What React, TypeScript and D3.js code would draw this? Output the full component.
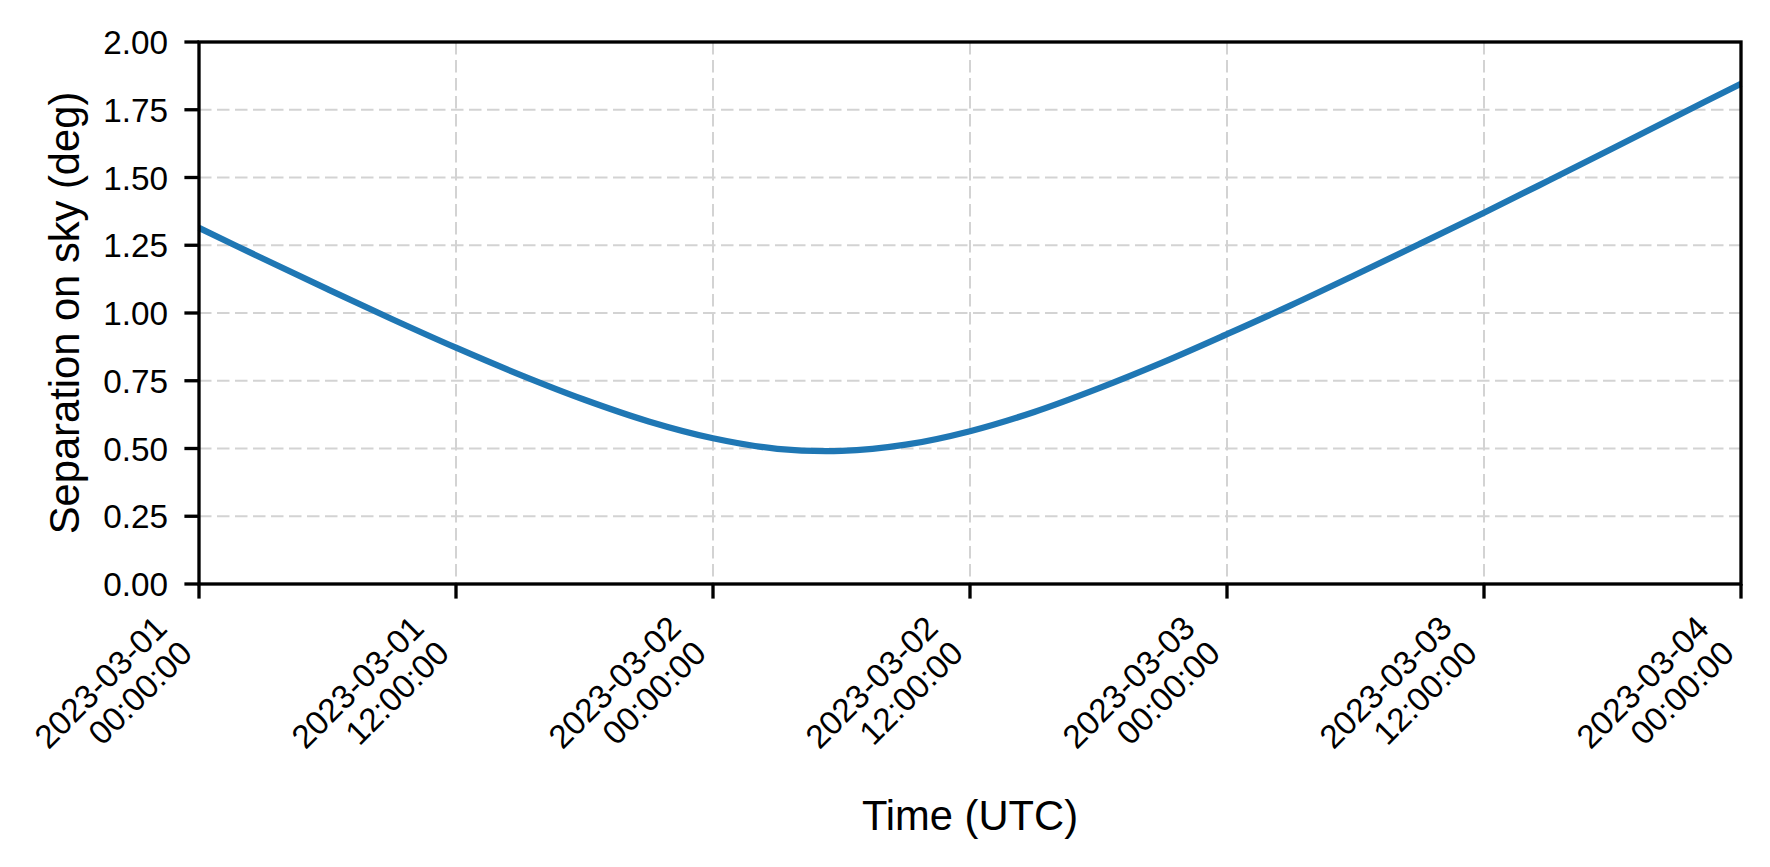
import React from "react";
import * as d3 from "d3";

// ---- data ----
const startTime = "2023-03-01T00:00:00Z";
const endTime = "2023-03-04T00:00:00Z";
const sampleHours = [0, 3, 6, 9, 12, 15, 18, 21, 24, 27, 30, 33, 36, 39, 42, 45, 48, 51, 54, 57, 60, 63, 66, 69, 72];
const separationDeg = [
  1.314, 1.2, 1.088, 0.978, 0.872, 0.772, 0.68, 0.6, 0.538, 0.499, 0.491, 0.514, 0.564,
  0.635, 0.722, 0.818, 0.922, 1.029, 1.141, 1.255, 1.37, 1.488, 1.607, 1.727, 1.846,
];
const xTickTimes = [
  "2023-03-01T00:00:00Z",
  "2023-03-01T12:00:00Z",
  "2023-03-02T00:00:00Z",
  "2023-03-02T12:00:00Z",
  "2023-03-03T00:00:00Z",
  "2023-03-03T12:00:00Z",
  "2023-03-04T00:00:00Z",
];
const yTicks = [0, 0.25, 0.5, 0.75, 1.0, 1.25, 1.5, 1.75, 2.0];
const yLabel = "Separation on sky (deg)";
const xLabel = "Time (UTC)";

const W = 1770;
const H = 867;
const M = { left: 199, right: 1741, top: 42, bottom: 584 };
const FONT = "'Liberation Sans', Arial, Helvetica, sans-serif";

export default function App() {
  const t0 = new Date(startTime);
  const x = d3.scaleUtc().domain([t0, new Date(endTime)]).range([M.left, M.right]);
  const y = d3.scaleLinear().domain([0, 2]).range([M.bottom, M.top]);

  const pts = sampleHours.map((h, i) => ({
    t: d3.utcHour.offset(t0, h),
    v: separationDeg[i],
  }));
  const line = d3
    .line<{ t: Date; v: number }>()
    .x((d) => x(d.t))
    .y((d) => y(d.v))
    .curve(d3.curveCatmullRom.alpha(0.5));

  const fmtDate = d3.utcFormat("%Y-%m-%d");
  const fmtTime = d3.utcFormat("%H:%M:%S");
  const fmtY = d3.format(".2f");
  const xTicks = xTickTimes.map((s) => new Date(s));

  const tickLen = 14.6;
  const spineW = 3.33;
  const gridColor = "#d3d3d3";
  const tickFs = 33.3;
  const labelFs = 41.7;

  return (
    <svg
      width={W}
      height={H}
      style={{ position: "absolute", left: 0, top: 0, background: "#fff" }}
      fontFamily={FONT}
    >
      <rect x={0} y={0} width={W} height={H} fill="#fff" />
      {/* grid */}
      <g stroke={gridColor} strokeWidth={2} strokeDasharray="12.5 5.5">
        {xTicks.map((t, i) => (
          <line key={"gx" + i} x1={x(t)} x2={x(t)} y1={M.top} y2={M.bottom} />
        ))}
        {yTicks.map((v, i) => (
          <line key={"gy" + i} x1={M.left} x2={M.right} y1={y(v)} y2={y(v)} />
        ))}
      </g>
      {/* data line */}
      <path d={line(pts) || ""} fill="none" stroke="#1f77b4" strokeWidth={6.25} strokeLinejoin="round" strokeLinecap="butt" />
      {/* spines */}
      <rect
        x={M.left}
        y={M.top}
        width={M.right - M.left}
        height={M.bottom - M.top}
        fill="none"
        stroke="#000"
        strokeWidth={spineW}
        strokeLinejoin="miter"
      />
      {/* y ticks */}
      {yTicks.map((v, i) => (
        <g key={"yt" + i}>
          <line x1={M.left - tickLen} x2={M.left} y1={y(v)} y2={y(v)} stroke="#000" strokeWidth={spineW} />
          <text x={168} y={y(v) + 12} textAnchor="end" fontSize={tickFs} fill="#000">
            {fmtY(v)}
          </text>
        </g>
      ))}
      {/* x ticks */}
      {xTicks.map((t, i) => {
        const tx = x(t);
        return (
          <g key={"xt" + i}>
            <line x1={tx} x2={tx} y1={M.bottom} y2={M.bottom + tickLen} stroke="#000" strokeWidth={spineW} />
            <g transform={`translate(${tx - 47},613.2) rotate(-45)`}>
              <text x={0} y={23.8} textAnchor="end" fontSize={tickFs} fill="#000">
                {fmtDate(t)}
              </text>
              <text x={0} y={59.4} textAnchor="end" fontSize={tickFs} fill="#000">
                {fmtTime(t)}
              </text>
            </g>
          </g>
        );
      })}
      {/* axis labels */}
      <text x={(M.left + M.right) / 2} y={830} textAnchor="middle" fontSize={labelFs} fill="#000">
        {xLabel}
      </text>
      <text
        transform={`translate(79,${(M.top + M.bottom) / 2}) rotate(-90)`}
        textAnchor="middle"
        fontSize={labelFs}
        fill="#000"
      >
        {yLabel}
      </text>
    </svg>
  );
}
